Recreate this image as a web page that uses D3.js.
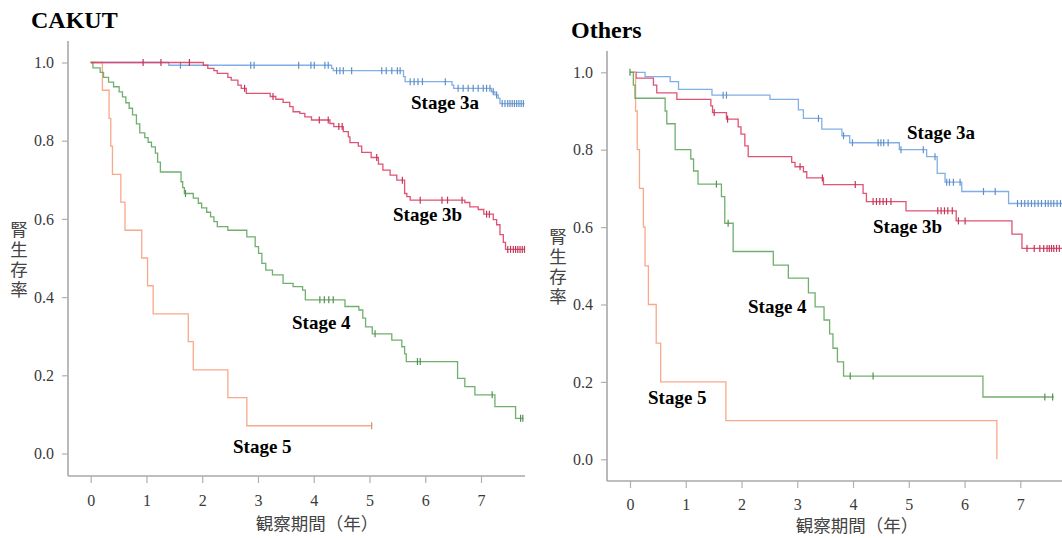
<!DOCTYPE html>
<html><head><meta charset="utf-8">
<script src="https://cdn.jsdelivr.net/npm/d3@7"></script>
<style>body{margin:0;background:#fff} svg{display:block}</style>
</head><body><svg id="c" width="1062" height="538"></svg>
<script>
// ---------- DATA ----------
const panelTitles = ["CAKUT", "Others"];
const stageNames = ["Stage 3a", "Stage 3b", "Stage 4", "Stage 5"];
const xTicks = [0, 1, 2, 3, 4, 5, 6, 7];
const yTicks = [0, 0.2, 0.4, 0.6, 0.8, 1.0];
const xTitle = "観察期間（年）";
const yTitle = "腎生存率";

// CAKUT – event times (years) and survival after each event, censor times, end of follow-up
const cakut3aT = [1.40,4.32,4.35,5.61,5.64,6.48,6.51,7.19,7.25,7.31,7.34];
const cakut3aS = [0.993,0.985,0.979,0.964,0.951,0.942,0.934,0.925,0.917,0.908,0.895];
const cakut3aC = [1.61,2.87,2.93,3.73,3.95,4.01,4.20,4.26,4.41,4.47,4.53,4.68,5.22,5.30,5.40,5.50,5.55,5.73,5.80,5.87,5.95,6.36,6.59,6.68,6.77,6.86,6.95,7.04,7.10,7.16,7.22,7.28,7.38,7.43,7.48,7.52,7.56,7.60,7.64,7.68,7.72,7.76];
const cakut3aEnd = 7.78;

const cakut3bT = [2.02,2.10,2.21,2.27,2.46,2.52,2.64,2.70,2.79,3.22,3.32,3.45,3.57,3.63,3.75,3.84,3.96,4.29,4.36,4.53,4.62,4.65,4.80,4.86,5.03,5.16,5.24,5.37,5.49,5.63,5.67,5.73,6.71,6.80,6.95,7.05,7.22,7.28,7.34,7.40,7.44];
const cakut3bS = [0.993,0.985,0.979,0.972,0.962,0.955,0.942,0.934,0.921,0.913,0.906,0.898,0.887,0.874,0.870,0.861,0.853,0.844,0.836,0.823,0.810,0.795,0.786,0.770,0.757,0.740,0.725,0.712,0.699,0.665,0.657,0.648,0.642,0.631,0.624,0.612,0.598,0.585,0.560,0.540,0.522];
const cakut3bC = [0.94,1.26,1.77,2.76,3.27,4.10,4.26,4.45,4.51,5.13,5.59,5.91,6.30,6.40,6.66,7.10,7.15,7.48,7.53,7.58,7.62,7.66,7.70,7.74,7.78];
const cakut3bEnd = 7.78;

const cakut4T = [0.04,0.17,0.23,0.32,0.41,0.51,0.57,0.63,0.69,0.75,0.82,0.88,0.97,1.03,1.09,1.16,1.20,1.25,1.62,1.65,1.68,1.84,1.93,1.99,2.08,2.15,2.21,2.27,2.46,2.80,2.95,3.01,3.07,3.14,3.26,3.45,3.63,3.80,3.85,4.56,4.81,4.88,4.93,5.05,5.40,5.58,5.63,5.66,6.58,6.71,6.89,7.25,7.62];
const cakut4S = [0.986,0.975,0.962,0.950,0.938,0.925,0.912,0.897,0.883,0.866,0.843,0.820,0.808,0.796,0.784,0.768,0.745,0.720,0.695,0.680,0.665,0.653,0.640,0.628,0.617,0.605,0.593,0.580,0.571,0.554,0.529,0.512,0.486,0.469,0.457,0.435,0.427,0.418,0.393,0.376,0.367,0.346,0.324,0.306,0.290,0.273,0.255,0.235,0.192,0.171,0.150,0.120,0.090];
const cakut4C = [1.70,4.11,4.19,4.27,4.35,5.10,5.86,5.91,7.20,7.71,7.75];
const cakut4End = 7.76;

const cakut5T = [0.21,0.33,0.36,0.39,0.54,0.615,0.915,1.02,1.12,1.75,1.84,2.46,2.80];
const cakut5S = [0.929,0.857,0.786,0.714,0.643,0.571,0.500,0.429,0.357,0.286,0.214,0.143,0.071];
const cakut5C = [5.04];
const cakut5End = 5.04;

// Others
const others3aT = [0.27,0.72,0.87,1.47,2.51,3.02,3.11,3.44,3.80,3.94,4.83,5.32,5.51,5.65,5.95,6.79];
const others3aS = [0.989,0.976,0.956,0.941,0.930,0.903,0.881,0.853,0.836,0.818,0.800,0.782,0.739,0.716,0.692,0.661];
const others3aC = [1.67,1.73,3.38,3.83,3.99,4.45,4.50,4.55,4.63,4.86,5.26,5.47,5.68,5.73,5.80,5.92,6.34,6.55,6.95,7.02,7.08,7.14,7.20,7.26,7.32,7.38,7.45,7.50,7.55,7.60,7.66,7.72];
const others3aEnd = 7.75;

const others3bT = [0.11,0.42,0.48,0.84,1.45,1.48,1.73,1.94,1.99,2.06,2.12,2.90,2.96,3.11,3.17,3.47,4.18,4.24,4.95,5.85,6.85,7.03];
const others3bS = [0.985,0.967,0.947,0.930,0.913,0.896,0.879,0.859,0.840,0.810,0.782,0.767,0.756,0.743,0.727,0.710,0.687,0.666,0.642,0.616,0.582,0.545];
const others3bC = [1.51,1.75,3.05,3.45,4.04,4.36,4.42,4.48,4.54,4.60,4.68,5.52,5.58,5.64,5.70,5.78,5.89,6.01,7.12,7.25,7.35,7.42,7.48,7.52,7.56,7.60,7.65,7.70];
const others3bEnd = 7.75;

const others4T = [0.06,0.09,0.63,0.66,0.81,1.09,1.14,1.22,1.64,1.70,1.85,2.57,2.84,3.20,3.32,3.48,3.58,3.64,3.72,3.83,6.33];
const others4S = [0.967,0.933,0.900,0.867,0.800,0.776,0.745,0.711,0.679,0.610,0.537,0.502,0.468,0.430,0.394,0.360,0.324,0.287,0.252,0.215,0.161];
const others4C = [0.0,1.55,1.76,3.95,4.36,7.44,7.58];
const others4End = 7.60;

const others5T = [0.10,0.13,0.17,0.24,0.27,0.33,0.47,0.55,1.72,6.58];
const others5S = [0.9,0.8,0.7,0.6,0.5,0.4,0.3,0.2,0.1,0.0];
const others5C = [];
const others5End = 6.58;

// ---------- STYLE / LAYOUT ----------
const colors = {"Stage 3a":"#72a5e4","Stage 3b":"#de3f66","Stage 4":"#62a65f","Stage 5":"#f6a080"};
const layouts = [
  {x0:90.7, x7:481, y0:453.5, y1:62.5, axisX:68, axisTop:41, axisBottom:476, axisRight:525,
   title:[31,28], yt:[19,221], xt:[317,522], tickPad:12,
   labels:{"Stage 3a":[411,109],"Stage 3b":[393,220.5],"Stage 4":[292,329],"Stage 5":[233,452.5]}},
  {x0:630, x7:1020.3, y0:459.3, y1:72.3, axisX:607, axisTop:51, axisBottom:481, axisRight:1062,
   title:[571,38], yt:[558,228], xt:[857,524], tickPad:11,
   labels:{"Stage 3a":[907,139],"Stage 3b":[873,232.5],"Stage 4":[748,312.5],"Stage 5":[648,404]}}
];
const panelSeries = [
  [ {n:"Stage 3a",T:cakut3aT,S:cakut3aS,C:cakut3aC,end:cakut3aEnd},
    {n:"Stage 5",T:cakut5T,S:cakut5S,C:cakut5C,end:cakut5End},
    {n:"Stage 4",T:cakut4T,S:cakut4S,C:cakut4C,end:cakut4End},
    {n:"Stage 3b",T:cakut3bT,S:cakut3bS,C:cakut3bC,end:cakut3bEnd} ],
  [ {n:"Stage 3a",T:others3aT,S:others3aS,C:others3aC,end:others3aEnd},
    {n:"Stage 3b",T:others3bT,S:others3bS,C:others3bC,end:others3bEnd},
    {n:"Stage 5",T:others5T,S:others5S,C:others5C,end:others5End},
    {n:"Stage 4",T:others4T,S:others4S,C:others4C,end:others4End} ]
];

const svg = d3.select("#c");
const serif = "'Liberation Serif','Times New Roman',serif";
const cjk = "'Noto Sans CJK JP','Noto Sans CJK SC',sans-serif";

function survAt(T,S,t){ let s=1; for(let i=0;i<T.length;i++){ if(T[i]<=t) s=S[i]; } return s; }

panelTitles.forEach((title, pi) => {
  const L = layouts[pi];
  const x = d3.scaleLinear().domain([0,7]).range([L.x0, L.x7]);
  const y = d3.scaleLinear().domain([0,1]).range([L.y0, L.y1]);
  const g = svg.append("g");

  // axis lines
  g.append("line").attr("x1",L.axisX).attr("x2",L.axisX).attr("y1",L.axisTop).attr("y2",L.axisBottom)
    .attr("stroke","#a8a8a8").attr("stroke-width",1.6);
  g.append("line").attr("x1",L.axisX).attr("x2",L.axisRight).attr("y1",L.axisBottom).attr("y2",L.axisBottom)
    .attr("stroke","#a8a8a8").attr("stroke-width",1.6);

  const ax = g.append("g").attr("transform",`translate(0,${L.axisBottom})`)
    .call(d3.axisBottom(x).tickValues(xTicks).tickSize(7).tickPadding(L.tickPad).tickFormat(d3.format("d")));
  const ay = g.append("g").attr("transform",`translate(${L.axisX},0)`)
    .call(d3.axisLeft(y).tickValues(yTicks).tickSize(6).tickPadding(8).tickFormat(d3.format(".1f")));
  [ax, ay].forEach(a => {
    a.select(".domain").remove();
    a.selectAll(".tick line").attr("stroke","#b0b0b0").attr("stroke-width",1.2);
    a.selectAll(".tick text").attr("fill","#3a3a3a").style("font-family",serif).style("font-size","16px");
  });

  // curves
  const line = d3.line().x(d=>x(d[0])).y(d=>y(d[1])).curve(d3.curveStepAfter);
  panelSeries[pi].forEach(s => {
    const pts = [[0,1]].concat(s.T.map((t,i)=>[t,s.S[i]]));
    pts.push([s.end, s.S[s.S.length-1]]);
    g.append("path").attr("d", line(pts)).attr("fill","none")
      .attr("stroke", colors[s.n]).attr("stroke-width",1.3).attr("stroke-opacity",0.9);
    g.selectAll(null).data(s.C).enter().append("line")
      .attr("x1", d=>x(d)).attr("x2", d=>x(d))
      .attr("y1", d=>y(survAt(s.T,s.S,d))-3.5).attr("y2", d=>y(survAt(s.T,s.S,d))+3.5)
      .attr("stroke", d3.color(colors[s.n]).darker(0.4)).attr("stroke-width",1.2);
  });

  // stage labels
  stageNames.forEach(n => {
    const p = L.labels[n];
    g.append("text").attr("x",p[0]).attr("y",p[1]).text(n)
      .style("font-family",serif).style("font-weight","bold").style("font-size","19px").attr("fill","#000");
  });

  // title
  g.append("text").attr("x",L.title[0]).attr("y",L.title[1]).text(title)
    .style("font-family",serif).style("font-weight","bold").style("font-size","24px").attr("fill","#000");

  // y title (vertical, upright characters)
  g.append("text").attr("x",L.yt[0]).attr("y",L.yt[1]).text(yTitle)
    .style("writing-mode","vertical-rl").style("text-orientation","upright")
    .style("letter-spacing","2.5px")
    .style("font-family",cjk).style("font-size","17.5px").attr("fill","#444");
  // x title
  g.append("text").attr("x",L.xt[0]).attr("y",L.xt[1]).text(xTitle)
    .attr("text-anchor","middle").attr("dominant-baseline","central")
    .style("font-family",cjk).style("font-size","17.5px").attr("fill","#444");
});
</script>
</body></html>
